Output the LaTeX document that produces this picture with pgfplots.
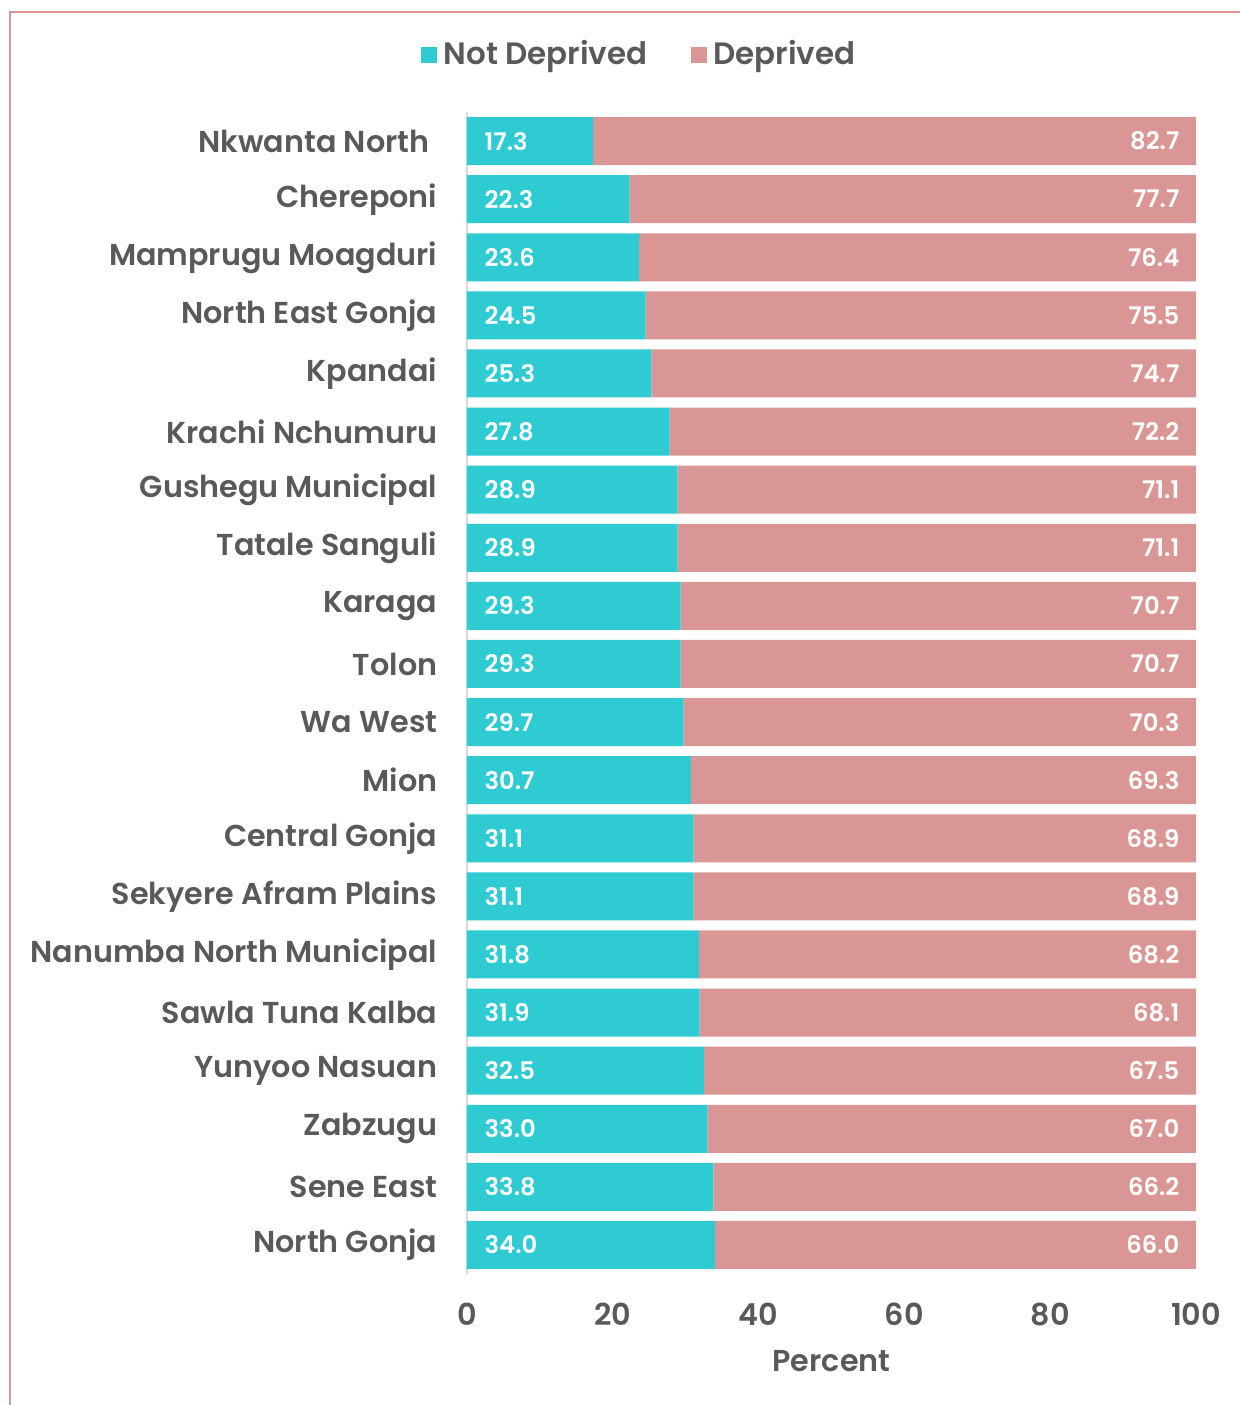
\documentclass[border=0pt]{standalone}
\usepackage{pgfplots}
\pgfplotsset{compat=1.18}
\usepackage{pgfplotstable}
\usepackage{fontspec}
\setmainfont{Poppins}[UprightFont=* SemiBold, BoldFont=* Bold]

\definecolor{notdep}{RGB}{46,203,211}
\definecolor{dep}{RGB}{218,150,148}
\definecolor{txt}{RGB}{89,89,89}
\definecolor{frame}{RGB}{217,150,148}

% districts, top to bottom
\pgfplotstableread{
idx nd   d
0   17.3 82.7
1   22.3 77.7
2   23.6 76.4
3   24.5 75.5
4   25.3 74.7
5   27.8 72.2
6   28.9 71.1
7   28.9 71.1
8   29.3 70.7
9   29.3 70.7
10  29.7 70.3
11  30.7 69.3
12  31.1 68.9
13  31.1 68.9
14  31.8 68.2
15  31.9 68.1
16  32.5 67.5
17  33.0 67.0
18  33.8 66.2
19  34.0 66.0
}\districts

\begin{document}
\begin{tikzpicture}[x=1mm,y=1mm]
\useasboundingbox (0,0) rectangle (124,-140.5);
\draw[frame, line width=0.25mm] (1.0,-140.5) -- (1.0,-1.2) -- (124,-1.2);
\begin{axis}[
    at={(46.7mm,-127.4mm)}, anchor=south west,
    scale only axis,
    width=72.9mm, height=116.2mm,
    xbar stacked,
    bar width=4.8mm,
    xmin=0, xmax=100,
    ymin=-0.5, ymax=19.5,
    y dir=reverse,
    axis lines*=left,
    x axis line style={draw=none},
    y axis line style={draw=black!15, line width=0.25mm},
    major tick length=0pt,
    xtick={0,20,...,100},
    ytick={0,...,19},
    yticklabels={Nkwanta North\kern0.8mm, Chereponi, Mamprugu Moagduri, North East Gonja, Kpandai, Krachi Nchumuru, Gushegu Municipal, Tatale Sanguli, Karaga, Tolon, Wa West, Mion, Central Gonja, Sekyere Afram Plains, Nanumba North Municipal, Sawla Tuna Kalba, Yunyoo Nasuan, Zabzugu, Sene East, North Gonja},
    /pgf/number format/assume math mode=true,
    tick label style={font=\fontsize{8.6}{10}\selectfont, text=txt, inner sep=0pt},
    y tick label style={xshift=-2.9mm},
    x tick label style={yshift=-2.8mm},
    xlabel={Percent},
    xlabel style={at={(axis description cs:0.5,0)}, anchor=north, inner sep=0pt,
        yshift=-7.6mm, font=\fontsize{8.6}{10}\selectfont, text=txt},
    legend style={at={(0.2395,1.049)}, anchor=center, draw=none, fill=none,
        legend columns=2, font=\fontsize{8.8}{10}\selectfont, text=txt,
        /tikz/every even column/.append style={column sep=3.6mm},
        inner sep=0pt},
    legend image code/.code={\fill[#1] (-0.4mm,-0.8mm) rectangle (1.2mm,0.8mm);},
    nodes near coords={\pgfmathprintnumber[fixed,fixed zerofill,precision=1]{\pgfplotspointmeta}},
    point meta=explicit,
]
% labels sit at the middle of each segment; shift them to the bar ends
\addplot[fill=notdep, draw=none,
    visualization depends on={\thisrow{nd} \as \ndval},
    nodes near coords style={anchor=west, text=white, inner sep=0pt,
        font=\fontsize{6.9}{8}\selectfont, xshift={1.7mm-0.3645mm*\ndval}}]
    table[x=nd, y=idx, meta=nd] {\districts};
\addplot[fill=dep, draw=none,
    visualization depends on={\thisrow{d} \as \dval},
    nodes near coords style={anchor=east, text=white, inner sep=0pt,
        font=\fontsize{6.9}{8}\selectfont, xshift={0.3645mm*\dval-1.6mm}}]
    table[x=d, y=idx, meta=d] {\districts};
\legend{Not Deprived, Deprived}
\end{axis}
\end{tikzpicture}
\end{document}
